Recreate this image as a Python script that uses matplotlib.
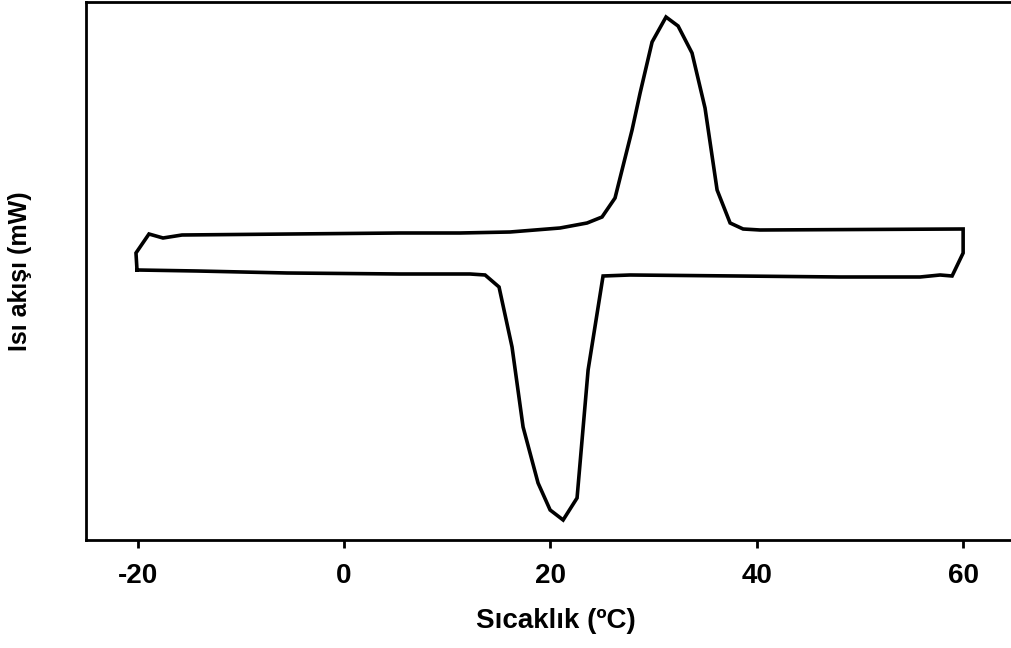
import numpy as np
import matplotlib.pyplot as plt

# DSC loop, heating run (upper trace, left -> right)
heat_T = [-20.05, -20.15, -18.89, -17.53, -15.69, 5.44, 11.25, 16.10, 20.94,
          23.56, 25.01, 26.27, 27.24, 27.92, 28.70, 29.86, 31.21, 32.38,
          33.73, 34.99, 36.16, 37.42, 38.68, 40.32, 60.0]
heat_q = [2.70, 2.87, 3.06, 3.02, 3.05, 3.07, 3.07, 3.08, 3.12,
          3.17, 3.23, 3.42, 3.82, 4.10, 4.47, 4.98, 5.23, 5.14,
          4.87, 4.32, 3.50, 3.17, 3.11, 3.10, 3.11]

# cooling run (lower trace, right -> left)
cool_T = [60.0, 58.93, 57.77, 55.83, 48.08, 38.09, 27.72, 25.11, 23.66,
          22.59, 21.24, 19.98, 18.81, 17.36, 16.29, 15.03, 13.68, 12.22,
          5.44, -5.51, -14.23, -20.05]
cool_q = [2.87, 2.64, 2.65, 2.63, 2.63, 2.64, 2.65, 2.64, 1.70,
          0.42, 0.20, 0.30, 0.57, 1.13, 1.93, 2.53, 2.65, 2.66,
          2.66, 2.67, 2.69, 2.70]

x_ticks = [-20, 0, 20, 40, 60]

plt.rcParams['font.family'] = ['Liberation Sans', 'DejaVu Sans']
plt.rcParams['font.weight'] = 'bold'
plt.rcParams['axes.unicode_minus'] = False

fig = plt.figure(figsize=(10.12, 6.48), dpi=100)
# right spine falls outside the figure, as in the cropped original
ax = fig.add_axes([0.0849, 0.1667, 0.928, 0.8302])

T = np.concatenate([heat_T, cool_T])
q = np.concatenate([heat_q, cool_q])
ax.plot(T, q, color='black', lw=2.6, solid_joinstyle='miter')

ax.set_xlim(-25.0, 66)
ax.set_ylim(0, 5.38)
ax.set_xticks(x_ticks)
ax.set_yticks([])
ax.tick_params(axis='x', direction='out', length=6, width=2.0,
               pad=10.5, labelsize=20)
for lbl in ax.get_xticklabels():
    lbl.set_fontweight('bold')
for s in ax.spines.values():
    s.set_linewidth(2.0)

ax.set_xlabel('Sıcaklık (ºC)', fontsize=20, fontweight='bold', labelpad=14)
ax.set_ylabel('Isı akışı (mW)', fontsize=18, fontweight='bold', labelpad=39)

fig.savefig('out.png', dpi=100)
